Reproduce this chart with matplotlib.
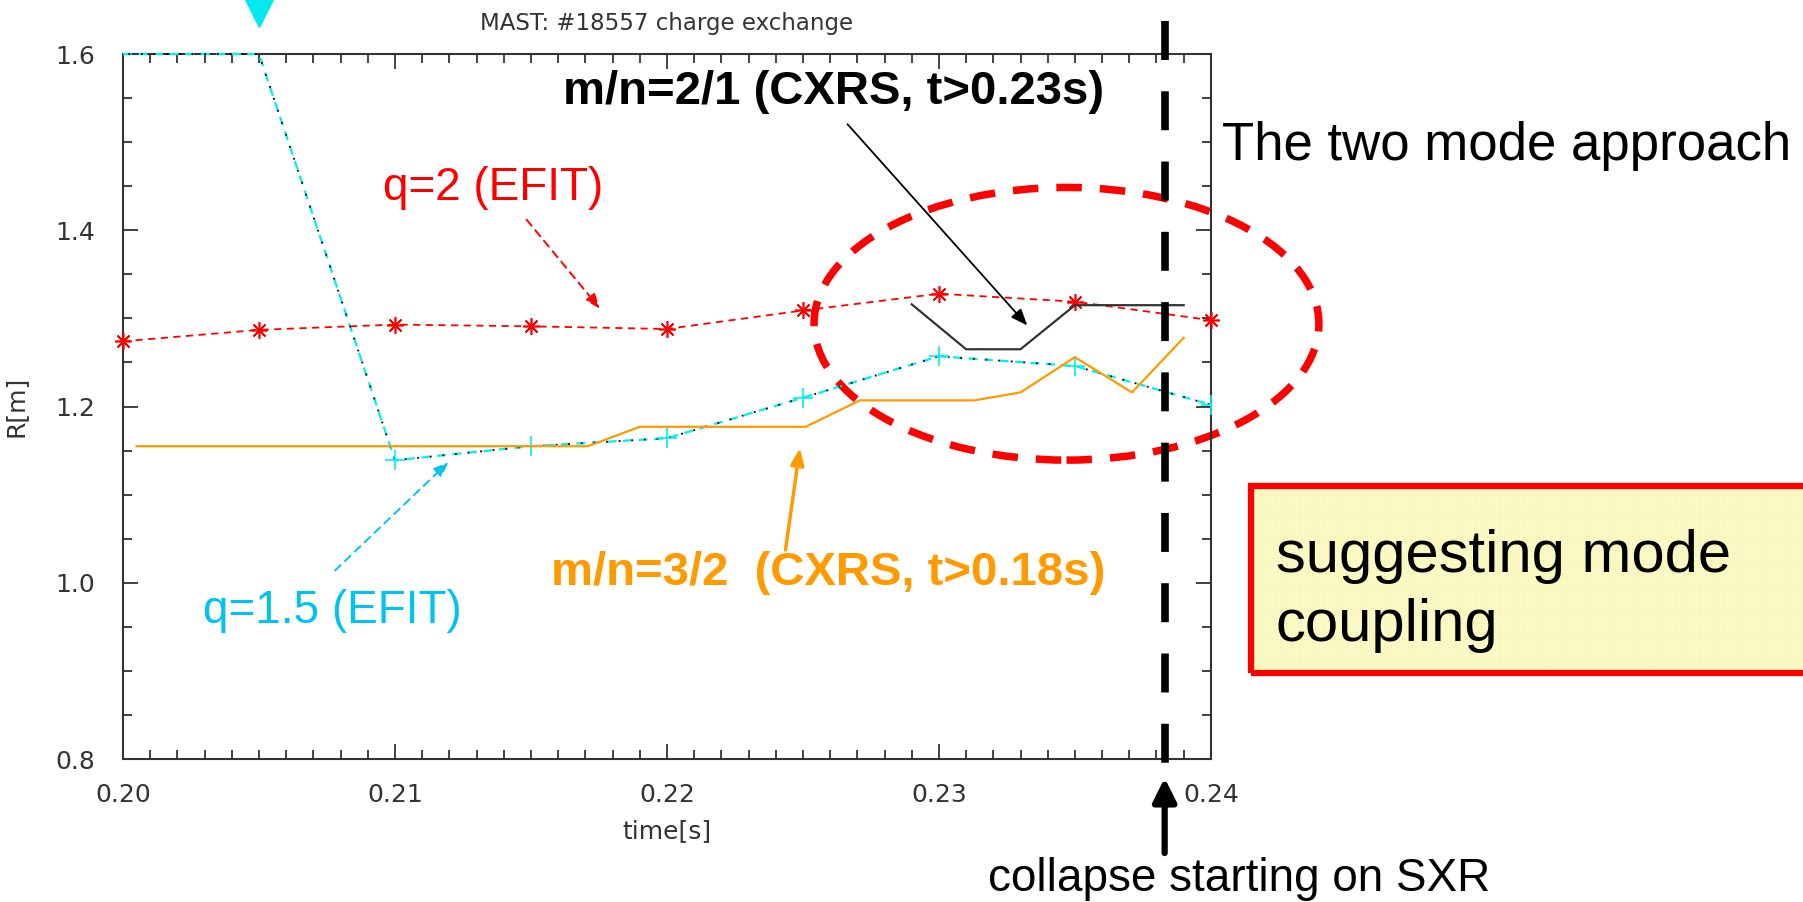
import numpy as np
import matplotlib.pyplot as plt
from matplotlib.patches import Ellipse, Rectangle
from matplotlib.ticker import MultipleLocator

# q=2 surface from EFIT
q2_t = [0.200, 0.205, 0.210, 0.215, 0.220, 0.225, 0.230, 0.235, 0.240]
q2_r = [1.274, 1.287, 1.293, 1.291, 1.288, 1.309, 1.328, 1.319, 1.298]

# q=1.5 surface from EFIT (first two points sit on the top edge)
q15_t = [0.200, 0.205, 0.210, 0.215, 0.220, 0.225, 0.230, 0.235, 0.240]
q15_r = [1.600, 1.600, 1.139, 1.155, 1.164, 1.210, 1.257, 1.246, 1.202]

# m/n=3/2 from CXRS
m32_t = [0.2005, 0.2171, 0.2190, 0.2251, 0.2271, 0.2313, 0.2330, 0.2350, 0.2371, 0.2390]
m32_r = [1.155, 1.155, 1.177, 1.177, 1.207, 1.207, 1.216, 1.256, 1.216, 1.278]

# m/n=2/1 from CXRS
m21_t = [0.2290, 0.2310, 0.2330, 0.2350, 0.2390]
m21_r = [1.316, 1.265, 1.265, 1.315, 1.315]

T_COLLAPSE = 0.2383
SANS = 'Liberation Sans'
CYAN_TXT = '#00c4f0'
ORANGE = '#ff9a00'
AXCOL = '#333333'

fig = plt.figure(figsize=(18.03, 9.02), dpi=100)
ax = fig.add_axes([0.0682, 0.1585, 0.6034, 0.7816])

# EFIT surfaces
ax.plot(q15_t, q15_r, color='#00f0f0', lw=1.6, ls=(0, (4, 3)), clip_on=False, zorder=3)
ax.plot(q15_t, q15_r, color='black', lw=1.3, ls=(4, (1, 6)), clip_on=False, zorder=3)
ax.plot(q15_t[2:], q15_r[2:], ls='none', marker='+', ms=14, mew=1.2, color='#00f0f0', zorder=3)
ax.plot(q2_t, q2_r, color='red', lw=1.3, ls=(0, (4, 3)),
        marker=(8, 2, 0), ms=12, mew=1.2, mec='red', clip_on=False, zorder=3)

# CXRS modes
ax.plot(m32_t, m32_r, color=ORANGE, lw=1.6, zorder=3)
ax.plot(m21_t, m21_r, color=AXCOL, lw=1.6, zorder=3)

ax.set_xlim(0.20, 0.24)
ax.set_ylim(0.8, 1.6)
ax.xaxis.set_major_locator(MultipleLocator(0.01))
ax.xaxis.set_minor_locator(MultipleLocator(0.001))
ax.yaxis.set_major_locator(MultipleLocator(0.2))
ax.yaxis.set_minor_locator(MultipleLocator(0.05))
ax.xaxis.set_major_formatter(plt.FuncFormatter(lambda v, p: f'{v:.2f}'))
ax.yaxis.set_major_formatter(plt.FuncFormatter(lambda v, p: f'{v:.1f}'))
ax.tick_params(which='both', direction='in', top=True, right=True, colors=AXCOL, width=1.3)
ax.tick_params(which='major', length=11)
ax.tick_params(which='minor', length=6.5)
ax.tick_params(axis='x', labelsize=18, pad=17, labelcolor=AXCOL)
ax.tick_params(axis='y', labelsize=18, pad=20, labelcolor=AXCOL)
for s in ax.spines.values():
    s.set_color(AXCOL)
    s.set_linewidth(1.5)

ax.set_title('MAST: #18557 charge exchange', fontsize=16.5, color=AXCOL, pad=17)
ax.set_xlabel('time[s]', fontsize=18, color=AXCOL, labelpad=9)
ax.set_ylabel('R[m]', fontsize=18, color=AXCOL, labelpad=20)

# off-scale marker for q=1.5
ax.plot([0.205], [1.647], marker='v', ms=20, color='#00e8f0', clip_on=False)

# mode labels and arrows
ax.text(0.21361, 1.448, 'q=2 (EFIT)', color='red', fontsize=33, family=SANS,
        ha='center', va='center')
ax.annotate('', xy=(0.21754, 1.311), xytext=(0.21484, 1.412),
            arrowprops=dict(arrowstyle='-|>,head_length=0.9,head_width=0.35',
                            color='red', lw=1.4, ls=(0, (4, 3)), shrinkA=0, shrinkB=0))

ax.text(0.2077, 0.968, 'q=1.5 (EFIT)', color=CYAN_TXT, fontsize=33, family=SANS,
        ha='center', va='center')
ax.annotate('', xy=(0.21197, 1.137), xytext=(0.20780, 1.014),
            arrowprops=dict(arrowstyle='-|>,head_length=0.9,head_width=0.35',
                            color=CYAN_TXT, lw=1.4, ls=(0, (4, 3)), shrinkA=0, shrinkB=0))

ax.text(0.22592, 1.0112, 'm/n=3/2  (CXRS, t>0.18s)', color=ORANGE, fontsize=34,
        family=SANS, weight='bold', ha='center', va='center')
ax.annotate('', xy=(0.22489, 1.153), xytext=(0.22436, 1.0373),
            arrowprops=dict(arrowstyle='-|>,head_length=1.0,head_width=0.4',
                            color=ORANGE, lw=2.5, shrinkA=0, shrinkB=0))

ax.text(0.22613, 1.557, 'm/n=2/1 (CXRS, t>0.23s)', color='black', fontsize=34,
        family=SANS, weight='bold', ha='center', va='center')
ax.annotate('', xy=(0.23325, 1.292), xytext=(0.22664, 1.5204),
            arrowprops=dict(arrowstyle='-|>,head_length=1.0,head_width=0.4',
                            color='black', lw=1.3, shrinkA=0, shrinkB=0))

# region where the two modes approach
ell = Ellipse((0.23469, 1.2939), width=0.018562, height=0.3094, fill=False,
              edgecolor='red', lw=5.4, ls=(0, (3.4, 2.4)), clip_on=False)
ax.add_patch(ell)

# collapse time
ax.plot([T_COLLAPSE, T_COLLAPSE], [1.638, 0.789], color='black', lw=5.5,
        ls=(0, (5.1, 4.1)), clip_on=False, zorder=5)
ax.annotate('', xy=(T_COLLAPSE, 0.7785), xytext=(T_COLLAPSE, 0.6933),
            xycoords='data', annotation_clip=False,
            arrowprops=dict(arrowstyle='-|>,head_length=1.4,head_width=0.7',
                            color='black', lw=4.5, shrinkA=0, shrinkB=0))
fig.text(0.548, 0.012, 'collapse starting on SXR', fontsize=33, family=SANS,
         ha='left', va='baseline')

fig.text(0.6778, 0.838, 'The two mode approach', fontsize=38, family=SANS,
         ha='left', va='center')

plt.rcParams['hatch.linewidth'] = 0.3
fig.patches.append(Rectangle((0.6938, 0.2539), 0.35, 0.2073, transform=fig.transFigure,
                             facecolor='#ffffd2', edgecolor='#f6f2b0', hatch='+' * 9, lw=0))
fig.patches.append(Rectangle((0.6938, 0.2539), 0.35, 0.2073, transform=fig.transFigure,
                             facecolor='none', edgecolor='red', lw=4.5))
fig.text(0.7077, 0.3448, 'suggesting mode\ncoupling', fontsize=43, family=SANS,
         ha='left', va='center', linespacing=1.32)

fig.savefig('out.png', dpi=100)
